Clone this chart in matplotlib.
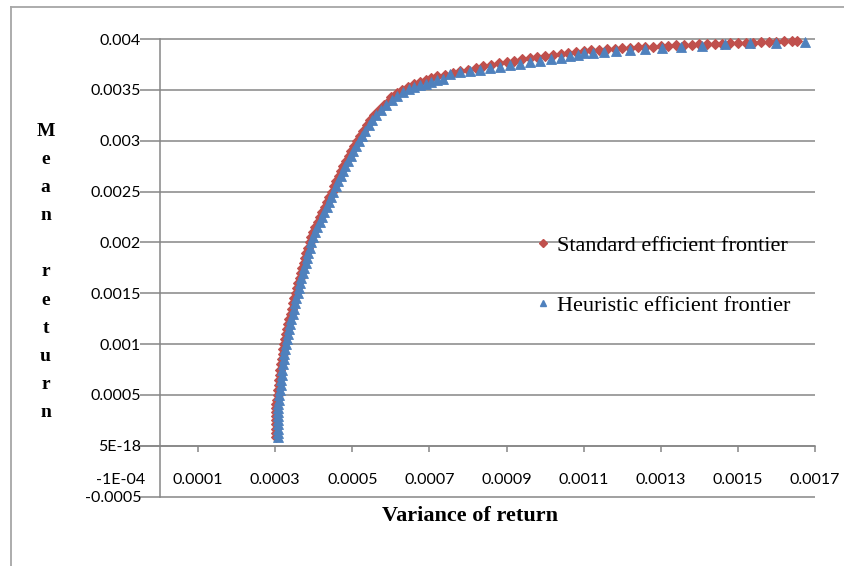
import matplotlib
matplotlib.use("Agg")
import matplotlib.pyplot as plt
from matplotlib.lines import Line2D

# ---- data: (variance, mean) pairs of the two frontiers ----
std_var = [
    0.000301, 0.000301, 0.000301, 0.000301, 0.000301, 0.000302, 0.000302, 0.000302,
    0.000303, 0.000304, 0.000306, 0.000307, 0.000309, 0.000310, 0.000312, 0.000313,
    0.000315, 0.000317, 0.000319, 0.000321, 0.000324, 0.000326, 0.000329, 0.000331,
    0.000334, 0.000337, 0.000340, 0.000343, 0.000346, 0.000350, 0.000353, 0.000356,
    0.000359, 0.000363, 0.000366, 0.000370, 0.000374, 0.000378, 0.000381, 0.000385,
    0.000389, 0.000393, 0.000399, 0.000404, 0.000410, 0.000416, 0.000422, 0.000428,
    0.000434, 0.000440, 0.000446, 0.000452, 0.000458, 0.000465, 0.000471, 0.000477,
    0.000484, 0.000491, 0.000497, 0.000504, 0.000511, 0.000519, 0.000528, 0.000537,
    0.000547, 0.000557, 0.000569, 0.000582, 0.000597,
    0.000600, 0.000615, 0.000630, 0.000645, 0.000660, 0.000675, 0.000690, 0.000705,
    0.000720, 0.000740, 0.000760, 0.000780, 0.000800, 0.000820, 0.000840, 0.000860,
    0.000880, 0.000900, 0.000920, 0.000940, 0.000960, 0.000980, 0.001000, 0.001020,
    0.001040, 0.001060, 0.001080, 0.001100, 0.001120, 0.001140, 0.001160, 0.001180,
    0.001200, 0.001220, 0.001240, 0.001260, 0.001280, 0.001300, 0.001320, 0.001340,
    0.001360, 0.001380, 0.001400, 0.001420, 0.001440, 0.001460, 0.001480, 0.001500,
    0.001520, 0.001540, 0.001560, 0.001580, 0.001600, 0.001620, 0.001640, 0.001654,
]
std_mean = [
    0.00009, 0.00013, 0.00017, 0.00021, 0.00025, 0.00029, 0.00033, 0.00037,
    0.00041, 0.00045, 0.00050, 0.00055, 0.00060, 0.00065, 0.00070, 0.00075,
    0.00080, 0.00085, 0.00090, 0.00095, 0.00100, 0.00105, 0.00110, 0.00115,
    0.00120, 0.00125, 0.00130, 0.00135, 0.00140, 0.00145, 0.00150, 0.00155,
    0.00160, 0.00165, 0.00170, 0.00175, 0.00180, 0.00185, 0.00190, 0.00195,
    0.00200, 0.00205, 0.00210, 0.00215, 0.00220, 0.00225, 0.00230, 0.00235,
    0.00240, 0.00245, 0.00250, 0.00255, 0.00260, 0.00265, 0.00270, 0.00275,
    0.00280, 0.00285, 0.00290, 0.00295, 0.00300, 0.00305, 0.00310, 0.00315,
    0.00320, 0.00325, 0.00330, 0.00335, 0.00340,
    0.003425, 0.003465, 0.003500, 0.003530, 0.003555, 0.003578, 0.003598, 0.003615,
    0.003632, 0.003650, 0.003668, 0.003685, 0.003700, 0.003715, 0.003730, 0.003745,
    0.003760, 0.003775, 0.003788, 0.003800, 0.003812, 0.003824, 0.003835, 0.003846,
    0.003856, 0.003865, 0.003873, 0.003880, 0.003887, 0.003894, 0.003900, 0.003905,
    0.003908, 0.003913, 0.003917, 0.003921, 0.003926, 0.003930, 0.003933, 0.003937,
    0.003940, 0.003943, 0.003946, 0.003949, 0.003952, 0.003955, 0.003957, 0.003960,
    0.003963, 0.003965, 0.003968, 0.003971, 0.003974, 0.003976, 0.003978, 0.003980,
]

heur_var = [
    0.000306, 0.000306, 0.000306, 0.000306, 0.000306, 0.000307, 0.000307, 0.000307,
    0.000308, 0.000309, 0.000311, 0.000312, 0.000314, 0.000315, 0.000317, 0.000318,
    0.000320, 0.000322, 0.000324, 0.000326, 0.000329, 0.000331, 0.000334, 0.000336,
    0.000339, 0.000342, 0.000345, 0.000348, 0.000351, 0.000355, 0.000358, 0.000361,
    0.000364, 0.000368, 0.000371, 0.000375, 0.000379, 0.000383, 0.000386, 0.000390,
    0.000394, 0.000398, 0.000404, 0.000409, 0.000415, 0.000421, 0.000427, 0.000433,
    0.000439, 0.000445, 0.000451, 0.000457, 0.000463, 0.000470, 0.000476, 0.000482,
    0.000489, 0.000496, 0.000502, 0.000509, 0.000516, 0.000524, 0.000533, 0.000542,
    0.000552, 0.000562, 0.000574, 0.000587, 0.000602, 0.000615, 0.000632, 0.000647,
    0.000661, 0.000676, 0.000690, 0.000704, 0.000719, 0.000735,
    0.000754, 0.000780, 0.000805, 0.000832, 0.000857, 0.000884, 0.000910, 0.000935,
    0.000961, 0.000988, 0.001014, 0.001040, 0.001065, 0.001086, 0.001102, 0.001124,
    0.001154, 0.001183, 0.001220, 0.001258, 0.001302, 0.001353, 0.001408, 0.001466,
    0.001532, 0.001600, 0.001673,
]
heur_mean = [
    0.00009, 0.00013, 0.00017, 0.00021, 0.00025, 0.00029, 0.00033, 0.00037,
    0.00041, 0.00045, 0.00050, 0.00055, 0.00060, 0.00065, 0.00070, 0.00075,
    0.00080, 0.00085, 0.00090, 0.00095, 0.00100, 0.00105, 0.00110, 0.00115,
    0.00120, 0.00125, 0.00130, 0.00135, 0.00140, 0.00145, 0.00150, 0.00155,
    0.00160, 0.00165, 0.00170, 0.00175, 0.00180, 0.00185, 0.00190, 0.00195,
    0.00200, 0.00205, 0.00210, 0.00215, 0.00220, 0.00225, 0.00230, 0.00235,
    0.00240, 0.00245, 0.00250, 0.00255, 0.00260, 0.00265, 0.00270, 0.00275,
    0.00280, 0.00285, 0.00290, 0.00295, 0.00300, 0.00305, 0.00310, 0.00315,
    0.00320, 0.00325, 0.00330, 0.00335, 0.00340, 0.00344, 0.00348, 0.00351,
    0.00353, 0.003546, 0.00356, 0.003575, 0.003595, 0.00361,
    0.003655, 0.003672, 0.003685, 0.003697, 0.003710, 0.003725, 0.003740, 0.003755,
    0.003770, 0.003785, 0.003800, 0.003815, 0.003830, 0.003845, 0.003860, 0.003865,
    0.003877, 0.003886, 0.003894, 0.003905, 0.003914, 0.003922, 0.003932, 0.003947,
    0.003958, 0.003962, 0.003972,
]

x_ticks = [-0.0001, 0.0001, 0.0003, 0.0005, 0.0007, 0.0009, 0.0011, 0.0013, 0.0015, 0.0017]
x_labels = ["-1E-04", "0.0001", "0.0003", "0.0005", "0.0007", "0.0009",
            "0.0011", "0.0013", "0.0015", "0.0017"]
y_ticks = [-0.0005, 0.0, 0.0005, 0.001, 0.0015, 0.002, 0.0025, 0.003, 0.0035, 0.004]
y_labels = ["-0.0005", "5E-18", "0.0005", "0.001", "0.0015", "0.002",
            "0.0025", "0.003", "0.0035", "0.004"]

series_names = ["Standard efficient frontier", "Heuristic efficient frontier"]
RED = "#C0504D"
BLUE = "#4F81BD"
GRID = "#868686"

W, H = 845, 566
fig = plt.figure(figsize=(W / 100, H / 100), dpi=100)
fig.patch.set_facecolor("white")

# plot area in pixel terms
left_px, right_px, top_px, bot_px = 121, 815, 39, 496.7
ax = fig.add_axes([left_px / W, 1 - bot_px / H, (right_px - left_px) / W, (bot_px - top_px) / H])
ax.set_xlim(-0.0001, 0.0017)
ax.set_ylim(-0.0005, 0.004)
ax.patch.set_visible(False)

# horizontal gridlines
ax.hlines(y_ticks, -0.00005, 0.0017, colors=GRID, linewidth=1.1, zorder=1, clip_on=False)

# axes crossing at zero
for side in ("top", "right"):
    ax.spines[side].set_visible(False)
ax.spines["left"].set_position(("data", 0))
ax.spines["left"].set_bounds(-0.0005, 0.004)
ax.spines["bottom"].set_position(("data", 0))
ax.spines["bottom"].set_bounds(-0.00005, 0.0017)
for side in ("left", "bottom"):
    ax.spines[side].set_color(GRID)
    ax.spines[side].set_linewidth(1.1)
    ax.spines[side].set_zorder(1.5)

tick_font = dict(family="Lato", size=11.5)
ax.set_xticks(x_ticks)
ax.set_xticklabels(x_labels, **tick_font)
ax.set_yticks(y_ticks)
ax.set_yticklabels(y_labels, **tick_font)
ax.tick_params(axis="x", direction="out", length=4.2, width=1.1, color=GRID, pad=15.5)
ax.tick_params(axis="y", length=0, pad=13.3)
ax.xaxis.get_major_ticks()[0].tick1line.set_visible(False)

# data
ax.plot(std_var, std_mean, linestyle="none", marker="D", markersize=5.2,
        color=RED, markeredgewidth=0.8, zorder=3, clip_on=False)
ax.plot(heur_var, heur_mean, linestyle="none", marker="^", markersize=6.9,
        color=BLUE, markeredgewidth=0.6, zorder=4, clip_on=False)

# legend
handles = [
    Line2D([], [], linestyle="none", marker="D", markersize=3.9, color=RED),
    Line2D([], [], linestyle="none", marker="^", markersize=5.0, color=BLUE),
]
ax.legend(handles, series_names, loc="upper left",
          bbox_to_anchor=(536 / W, 1 - 235 / H), bbox_transform=fig.transFigure,
          frameon=False, prop=dict(family="Liberation Serif", size=16),
          handlelength=0.6, handletextpad=0.35, labelspacing=1.78, borderpad=0,
          borderaxespad=0)

# axis titles
title_font = dict(family="Liberation Serif", weight="bold")
fig.text(470 / W, 1 - 516 / H, "Variance of return", ha="center", va="center",
         size=16, **title_font)
y_title = "Mean return"
for i, ch in enumerate(y_title):
    if ch == " ":
        continue
    fig.text(45.6 / W, 1 - (136 + 28.1 * i) / H, ch, ha="center", va="baseline",
             size=14, **title_font)

# chart-area frame (top and left edges)
frame = dict(color="#a6a6a6", linewidth=1.3, transform=fig.transFigure)
fig.add_artist(Line2D([11.5 / W, 11.5 / W], [0, 1 - 7 / H], **frame))
fig.add_artist(Line2D([11.5 / W, 1], [1 - 7 / H, 1 - 7 / H], **frame))

fig.savefig("out.png", dpi=100)
